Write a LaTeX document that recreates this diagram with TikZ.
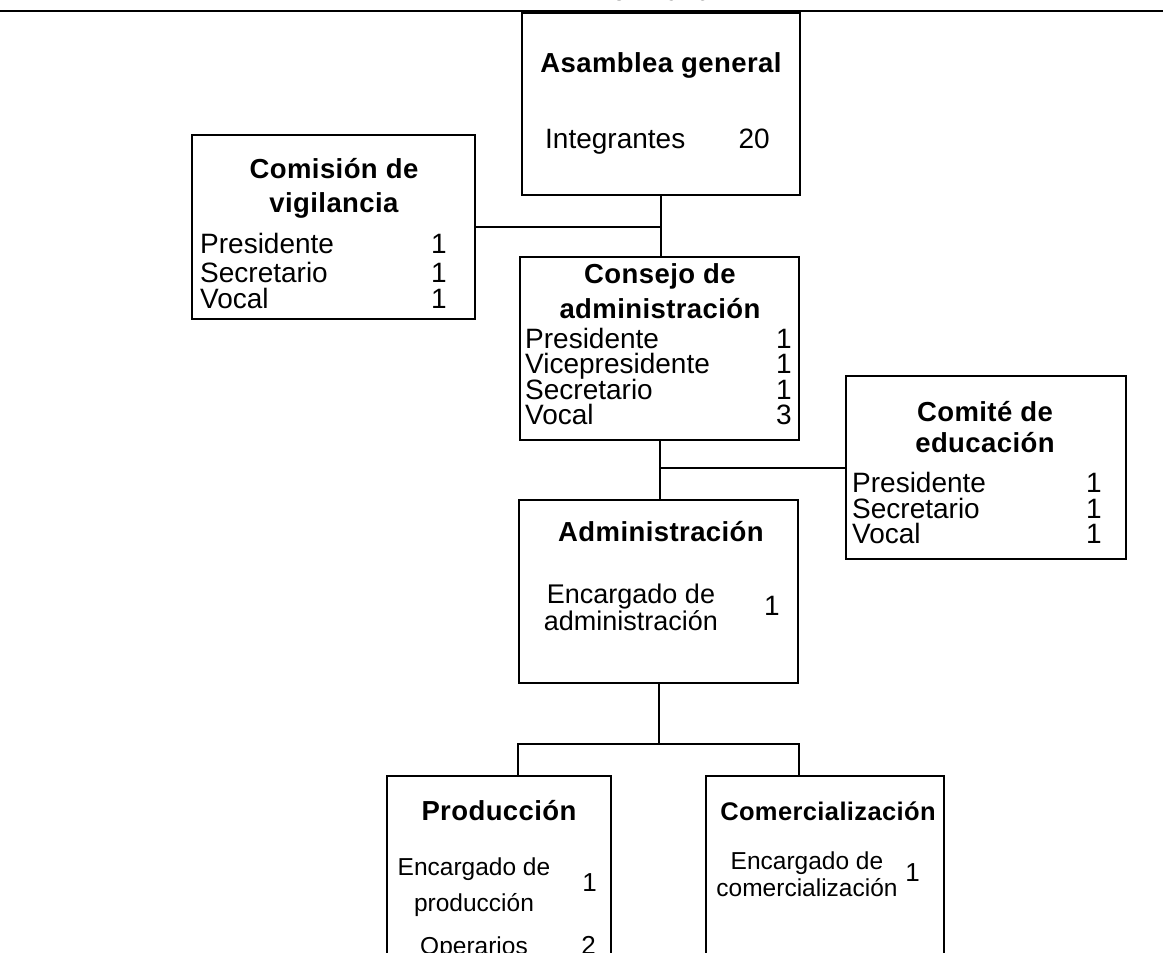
\documentclass[tikz,border=0pt]{standalone}
\usepackage{fontspec}
\setmainfont{Liberation Sans}
\newfontfamily\bodyf{Liberation Sans}
\newfontfamily\titlef[LetterSpace=1.5]{Liberation Sans}
\begin{document}
\begin{tikzpicture}[x=1pt,y=-1pt,
  box/.style={draw, line width=2pt, anchor=north west, inner sep=0pt, outer sep=0pt},
  ttl/.style={anchor=base, inner sep=0pt, font=\titlef\bfseries\fontsize{27.5}{30}\selectfont},
  ttls/.style={anchor=base, inner sep=0pt, font=\titlef\bfseries\fontsize{25.5}{30}\selectfont},
  txt/.style={anchor=base west, inner sep=0pt, font=\bodyf\fontsize{28}{30}\selectfont},
  ctr/.style={anchor=base, inner sep=0pt, font=\bodyf\fontsize{27}{30}\selectfont},
  num/.style={anchor=base east, inner sep=0pt, font=\bodyf\fontsize{28}{30}\selectfont},
  ctrs/.style={anchor=base, inner sep=0pt, font=\bodyf\fontsize{24.5}{30}\selectfont},
  nums/.style={anchor=base east, inner sep=0pt, font=\bodyf\fontsize{26}{30}\selectfont},
  link/.style={line width=2pt}]
\useasboundingbox (0,0) rectangle (1163,953);
\clip (0,0) rectangle (1163,953);
\fill[white] (0,0) rectangle (1163,953);

% heading (cut off at top) and rule
\node[ttl] (year) at (642,1) {Año: 2010};
\coordinate (rl) at (0,11);
\coordinate (rr) at (1163,11);
\draw[link] (rl) -- (rr);

% boxes
\node[box, minimum width=278pt, minimum height=182pt] (asam) at (522,13) {};
\node[box, minimum width=283pt, minimum height=184pt] (comis) at (192,135) {};
\node[box, minimum width=279pt, minimum height=183pt] (cons) at (520,257) {};
\node[box, minimum width=280pt, minimum height=183pt] (comite) at (846,376) {};
\node[box, minimum width=279pt, minimum height=183pt] (admin) at (519,500) {};
\node[box, minimum width=224pt, minimum height=220pt] (prod) at (387,776) {};
\node[box, minimum width=238pt, minimum height=220pt] (comer) at (706,776) {};

% Asamblea general
\node[ttl] (asamT) at (661,72) {Asamblea general};
\node[txt] (asamA) at (545,148) {Integrantes};
\node[num] (asamN) at (770,148) {20};

% Comision de vigilancia
\node[ttl] (comisT1) at (334,178) {Comisión de};
\node[ttl] (comisT2) at (334,212) {vigilancia};
\node[txt] (comisA) at (200,253) {Presidente};
\node[txt] (comisB) at (200,282) {Secretario};
\node[txt] (comisC) at (200,308) {Vocal};
\node[num] (comisNA) at (447,253) {1};
\node[num] (comisNB) at (447,282) {1};
\node[num] (comisNC) at (447,308) {1};

% Consejo de administracion
\node[ttl] (consT1) at (660,283) {Consejo de};
\node[ttl] (consT2) at (660,318) {administración};
\node[txt] (consA) at (525,348) {Presidente};
\node[txt] (consB) at (525,373) {Vicepresidente};
\node[txt] (consC) at (525,399) {Secretario};
\node[txt] (consD) at (525,424) {Vocal};
\node[num] (consNA) at (792,348) {1};
\node[num] (consNB) at (792,373) {1};
\node[num] (consNC) at (792,399) {1};
\node[num] (consND) at (792,424) {3};

% Comite de educacion
\node[ttl] (comiteT1) at (985,421) {Comité de};
\node[ttl] (comiteT2) at (985,452) {educación};
\node[txt] (comiteA) at (852,492) {Presidente};
\node[txt] (comiteB) at (852,518) {Secretario};
\node[txt] (comiteC) at (852,543) {Vocal};
\node[num] (comiteNA) at (1102,492) {1};
\node[num] (comiteNB) at (1102,518) {1};
\node[num] (comiteNC) at (1102,543) {1};

% Administracion
\node[ttl] (adminT) at (661,541) {Administración};
\node[ctr] (adminA1) at (631,603) {Encargado de};
\node[ctr] (adminA2) at (631,630) {administración};
\node[num] (adminN) at (780,615) {1};

% Produccion
\node[ttl] (prodT) at (499,820) {Producción};
\node[ctrs] (prodA1) at (474,875) {Encargado de};
\node[ctrs] (prodA2) at (474,911) {producción};
\node[nums] (prodNA) at (597,891) {1};
\node[ctrs] (prodB) at (474,954) {Operarios};
\node[nums] (prodNB) at (596,954) {2};

% Comercializacion
\node[ttls] (comerT) at (828,820) {Comercialización};
\node[ctrs] (comerA1) at (807,869) {Encargado de};
\node[ctrs] (comerA2) at (807,896) {comercialización};
\node[nums] (comerN) at (920,881) {1};

% connectors
\coordinate (j1) at (660,227);
\draw[link] (asam.south) -- (asam.south |- cons.north);
\draw[link] (comis.east) -- (j1);
\draw[link] (cons.south) -- (cons.south |- admin.north);
\draw[link] (comite.west) -- (comite.west -| cons.south);
\coordinate (j3) at (660,744);
\coordinate (pj) at (518,744);
\coordinate (cj) at (799,744);
\draw[link] (admin.south) -- (admin.south |- j3);
\draw[link] (pj |- prod.north) -- (pj) -- (cj) -- (cj |- comer.north);
\end{tikzpicture}
\end{document}
